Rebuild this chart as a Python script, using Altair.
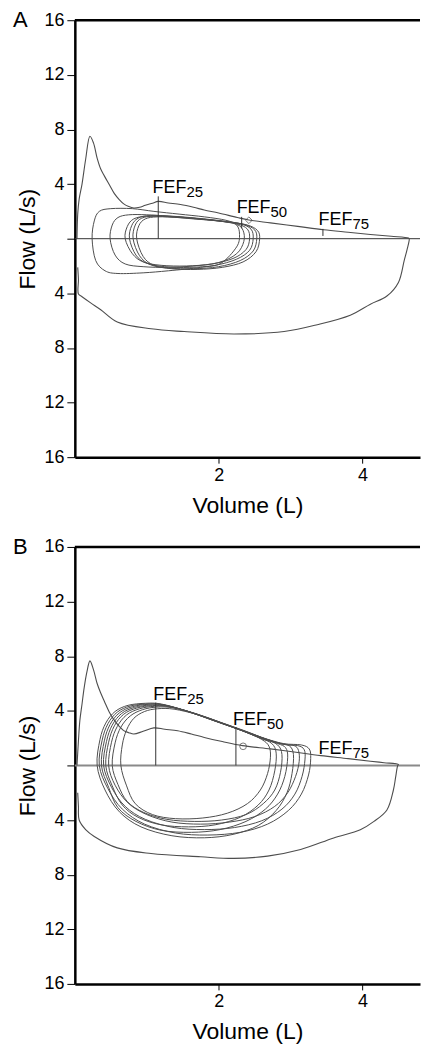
import altair as alt
import pandas as pd

FONT = "Liberation Sans"
CURVE = "#4d4d4d"
X_MAX = 4.8
Y_TICKS = [-16, -12, -8, -4, 0, 4, 8, 12, 16]
X_TICKS = [2, 4]

# ---------------- Panel A ----------------
A_EXP_V = [0.03, 0.04, 0.06, 0.10, 0.15, 0.21, 0.26, 0.31, 0.36, 0.41, 0.48, 0.55, 0.62, 0.68, 0.75, 0.82, 0.90, 0.98, 1.08, 1.16, 1.30, 1.47, 1.65, 1.80, 2.00, 2.26, 2.42, 2.72, 3.10, 3.46, 3.80, 4.11, 4.40, 4.64]
A_EXP_F = [0.0, 1.8, 2.9, 4.0, 5.8, 7.5, 7.0, 5.9, 5.1, 4.6, 3.95, 3.3, 2.85, 2.55, 2.35, 2.25, 2.3, 2.45, 2.6, 2.73, 2.62, 2.5, 2.3, 2.1, 1.88, 1.55, 1.37, 1.16, 0.9, 0.65, 0.47, 0.31, 0.18, 0.05]
A_INS_V = [4.65, 4.62, 4.58, 4.50, 4.34, 4.11, 3.83, 3.37, 2.91, 2.21, 1.52, 1.06, 0.59, 0.36, 0.22, 0.10, 0.05, 0.05, 0.04]
A_INS_F = [0.0, -0.8, -1.6, -3.2, -4.2, -4.8, -5.6, -6.3, -6.8, -6.98, -6.8, -6.6, -6.1, -5.2, -4.7, -4.25, -4.05, -3.0, -2.1]

A_T1_V = [0.24, 0.27, 0.34, 0.50, 0.80, 1.10, 1.45, 1.80, 2.10, 2.25, 2.29, 2.25, 2.03, 1.75, 1.30, 0.95, 0.60, 0.42, 0.29]
A_T1_F = [0.0, 1.3, 2.0, 2.2, 2.2, 2.0, 1.8, 1.6, 1.35, 1.0, 0.3, -0.6, -1.8, -2.1, -2.35, -2.5, -2.55, -2.35, -1.6]
A_T2_V = [0.49, 0.52, 0.60, 0.75, 1.00, 1.30, 1.65, 2.00, 2.25, 2.34, 2.35, 2.25, 2.00, 1.65, 1.30, 0.95, 0.70, 0.56]
A_T2_F = [0.0, 1.0, 1.55, 1.75, 1.75, 1.65, 1.5, 1.3, 1.05, 0.6, -0.2, -1.1, -1.75, -2.0, -2.1, -2.05, -1.85, -1.2]
A_T3_V = [0.70, 0.73, 0.82, 1.00, 1.30, 1.65, 2.00, 2.25, 2.40, 2.43, 2.38, 2.20, 1.90, 1.55, 1.20, 0.95, 0.80]
A_T3_F = [0.0, 0.9, 1.45, 1.65, 1.6, 1.45, 1.3, 1.1, 0.7, 0.0, -0.8, -1.45, -1.85, -2.0, -1.95, -1.7, -1.1]
A_T4_V = [0.76, 0.79, 0.88, 1.05, 1.35, 1.70, 2.05, 2.30, 2.45, 2.48, 2.43, 2.25, 1.95, 1.60, 1.25, 1.00, 0.85]
A_T4_F = [0.0, 0.95, 1.5, 1.7, 1.65, 1.5, 1.3, 1.1, 0.7, 0.0, -0.85, -1.5, -1.95, -2.1, -2.05, -1.8, -1.2]
A_T5_V = [0.81, 0.84, 0.93, 1.10, 1.40, 1.75, 2.10, 2.35, 2.50, 2.53, 2.48, 2.30, 2.00, 1.65, 1.30, 1.05, 0.90]
A_T5_F = [0.0, 1.0, 1.5, 1.65, 1.6, 1.45, 1.25, 1.05, 0.65, 0.0, -0.9, -1.6, -2.05, -2.2, -2.15, -1.9, -1.25]
A_T6_V = [0.86, 0.89, 0.98, 1.15, 1.45, 1.80, 2.15, 2.40, 2.54, 2.57, 2.52, 2.34, 2.05, 1.70, 1.35, 1.10, 0.95]
A_T6_F = [0.0, 0.95, 1.45, 1.6, 1.55, 1.4, 1.2, 1.0, 0.6, 0.0, -0.95, -1.7, -2.1, -2.25, -2.2, -1.95, -1.3]

A_FEF_LINE_V = [1.16, 2.32, 3.45]
A_FEF_LINE_LO = [0.0, 0.75, 0.2]
A_FEF_LINE_HI = [3.1, 1.6, 0.72]
A_FEF_TEXT_V = [1.08, 2.25, 3.39]
A_FEF_TEXT_F = [3.35, 1.85, 1.0]
A_MARK_V = [2.42]
A_MARK_F = [1.35]

# ---------------- Panel B ----------------
B_EXP_V = [0.03, 0.05, 0.07, 0.10, 0.13, 0.17, 0.21, 0.26, 0.31, 0.36, 0.41, 0.48, 0.55, 0.62, 0.68, 0.75, 0.82, 0.95, 1.10, 1.25, 1.43, 1.62, 1.80, 2.05, 2.33, 2.72, 3.05, 3.42, 3.80, 4.11, 4.30, 4.50]
B_EXP_F = [0.0, 1.8, 3.3, 4.5, 5.7, 6.9, 7.66, 7.0, 6.0, 5.3, 4.7, 3.9, 3.3, 2.85, 2.55, 2.4, 2.3, 2.5, 2.75, 2.65, 2.54, 2.3, 2.05, 1.75, 1.45, 1.21, 0.98, 0.72, 0.5, 0.31, 0.2, 0.07]
B_INS_V = [4.49, 4.46, 4.43, 4.34, 4.16, 3.97, 3.60, 3.14, 2.68, 2.21, 1.75, 1.06, 0.59, 0.27, 0.15, 0.06, 0.05, 0.04]
B_INS_F = [0.0, -0.9, -1.8, -3.26, -4.1, -4.71, -5.31, -6.16, -6.64, -6.81, -6.69, -6.45, -6.04, -5.2, -4.7, -4.0, -3.0, -2.0]

B_T1_V = [0.31, 0.35, 0.43, 0.56, 0.74, 0.98, 1.20, 1.55, 1.90, 2.25, 2.55, 2.82, 2.98, 3.04, 3.02, 2.95, 2.80, 2.55, 2.20, 1.80, 1.35, 0.92, 0.62, 0.42]
B_T1_F = [0.0, 1.9, 3.1, 3.95, 4.4, 4.55, 4.5, 4.0, 3.35, 2.7, 2.1, 1.65, 1.45, 0.8, -0.6, -2.0, -3.3, -4.4, -5.05, -5.3, -5.15, -4.5, -3.4, -1.8]
B_T2_V = [0.34, 0.38, 0.46, 0.59, 0.77, 1.00, 1.22, 1.57, 1.92, 2.27, 2.60, 2.90, 3.15, 3.26, 3.28, 3.25, 3.15, 2.97, 2.68, 2.30, 1.85, 1.40, 0.97, 0.66, 0.46]
B_T2_F = [0.0, 1.85, 3.05, 3.9, 4.35, 4.5, 4.45, 3.95, 3.3, 2.65, 2.05, 1.6, 1.5, 1.2, 0.5, -0.7, -2.1, -3.3, -4.3, -4.9, -5.1, -4.95, -4.3, -3.2, -1.7]
B_T3_V = [0.37, 0.41, 0.49, 0.62, 0.80, 1.03, 1.25, 1.60, 1.95, 2.30, 2.58, 2.82, 2.93, 2.96, 2.92, 2.82, 2.65, 2.38, 2.02, 1.62, 1.20, 0.85, 0.60, 0.47]
B_T3_F = [0.0, 1.8, 3.0, 3.85, 4.3, 4.48, 4.42, 3.9, 3.25, 2.6, 2.0, 1.6, 1.3, 0.6, -0.8, -2.1, -3.2, -4.1, -4.7, -4.9, -4.75, -4.1, -3.1, -1.6]
B_T4_V = [0.40, 0.44, 0.52, 0.65, 0.83, 1.05, 1.27, 1.62, 1.97, 2.32, 2.62, 2.90, 3.10, 3.19, 3.20, 3.16, 3.06, 2.88, 2.60, 2.22, 1.80, 1.38, 0.98, 0.70, 0.51]
B_T4_F = [0.0, 1.75, 2.95, 3.8, 4.25, 4.42, 4.38, 3.88, 3.22, 2.58, 2.0, 1.55, 1.45, 1.15, 0.4, -0.8, -2.1, -3.2, -4.05, -4.55, -4.7, -4.55, -3.95, -3.0, -1.6]
B_T5_V = [0.43, 0.47, 0.55, 0.68, 0.86, 1.08, 1.30, 1.65, 2.00, 2.32, 2.58, 2.74, 2.80, 2.78, 2.70, 2.55, 2.30, 1.95, 1.58, 1.20, 0.88, 0.66, 0.52]
B_T5_F = [0.0, 1.7, 2.9, 3.75, 4.2, 4.38, 4.33, 3.83, 3.18, 2.55, 2.0, 1.6, 0.9, -0.4, -1.8, -2.9, -3.8, -4.35, -4.5, -4.35, -3.8, -2.9, -1.5]
B_T6_V = [0.47, 0.51, 0.59, 0.72, 0.90, 1.11, 1.33, 1.68, 2.03, 2.37, 2.65, 2.90, 3.05, 3.11, 3.12, 3.07, 2.96, 2.78, 2.50, 2.15, 1.75, 1.35, 1.00, 0.74, 0.56]
B_T6_F = [0.0, 1.7, 2.85, 3.7, 4.15, 4.33, 4.28, 3.8, 3.15, 2.52, 1.95, 1.55, 1.45, 1.1, 0.3, -0.8, -2.0, -3.0, -3.75, -4.15, -4.3, -4.15, -3.6, -2.75, -1.45]
B_T7_V = [0.52, 0.56, 0.64, 0.77, 0.94, 1.14, 1.36, 1.70, 2.05, 2.38, 2.64, 2.82, 2.88, 2.86, 2.78, 2.62, 2.38, 2.04, 1.66, 1.28, 0.96, 0.73, 0.60]
B_T7_F = [0.0, 1.65, 2.8, 3.62, 4.08, 4.27, 4.22, 3.75, 3.1, 2.48, 1.95, 1.5, 0.8, -0.5, -1.8, -2.8, -3.6, -4.0, -4.1, -3.95, -3.45, -2.65, -1.4]
B_T8_V = [0.64, 0.66, 0.72, 0.82, 0.97, 1.15, 1.38, 1.72, 2.06, 2.38, 2.60, 2.70, 2.72, 2.68, 2.58, 2.40, 2.12, 1.78, 1.40, 1.08, 0.84, 0.72]
B_T8_F = [0.0, 1.5, 2.6, 3.45, 3.95, 4.15, 4.12, 3.7, 3.08, 2.45, 1.9, 1.4, 0.6, -0.6, -1.8, -2.8, -3.5, -3.85, -3.9, -3.6, -2.8, -1.5]

B_FEF_LINE_V = [1.125, 2.24]
B_FEF_LINE_LO = [0.0, 0.0]
B_FEF_LINE_HI = [4.6, 2.8]
B_FEF_TEXT_V = [1.09, 2.20, 3.39]
B_FEF_TEXT_F = [4.76, 2.95, 0.85]
B_MARK_V = [2.34]
B_MARK_F = [1.40]

FEF_SUB = ["25", "50", "75"]


def frame(v, f, name):
    return pd.DataFrame({"V": v, "F": f, "i": list(range(len(v))), "s": name})


def panel(letter, exp_v, exp_f, ins_v, ins_f, loops, lv, llo, lhi, tv, tf,
          mv, mf, shape, zero_color, zero_w):
    xs = alt.Scale(domain=[0, X_MAX], nice=False, zero=False)
    ys = alt.Scale(domain=[-16, 16], nice=False, zero=False)
    xax = alt.Axis(values=X_TICKS, title="Volume (L)", grid=False, format="d",
                   tickSize=6, labelPadding=3, titlePadding=10)
    yax = alt.Axis(values=Y_TICKS, title="Flow (L/s)", grid=False,
                   labelExpr="datum.value == 0 ? '' : '' + abs(datum.value)",
                   tickSize=8, labelPadding=3, titlePadding=4)
    X = alt.X("V:Q", scale=xs, axis=xax)
    Y = alt.Y("F:Q", scale=ys, axis=yax)

    zero = alt.Chart(pd.DataFrame({"F": [0]})).mark_rule(
        color=zero_color, strokeWidth=zero_w).encode(y=Y)
    top = alt.Chart(pd.DataFrame({"F": [16]})).mark_rule(
        color="black", strokeWidth=2.5).encode(y=Y)

    outer = frame(exp_v + ins_v, exp_f + ins_f, "outer")
    outer_l = alt.Chart(outer).mark_line(color=CURVE, strokeWidth=1.1,
                                         interpolate="catmull-rom").encode(
        x=X, y=Y, order="i:Q")

    ldf = pd.concat([frame(v, f, f"{letter}{k}") for k, (v, f) in enumerate(loops)],
                    ignore_index=True)
    loops_l = alt.Chart(ldf).mark_line(
        color=CURVE, strokeWidth=1.0, interpolate="cardinal-closed").encode(
        x=X, y=Y, detail="s:N", order="i:Q")

    fef = pd.DataFrame({"V": lv, "F": llo, "F2": lhi})
    fef_l = alt.Chart(fef).mark_rule(color="#333333", strokeWidth=1).encode(
        x=X, y=Y, y2="F2:Q")

    mk = pd.DataFrame({"V": mv, "F": mf})
    mk_l = alt.Chart(mk).mark_point(shape=shape, filled=False, color="#444444",
                                    size=45, strokeWidth=1).encode(x=X, y=Y)

    txt = pd.DataFrame({"V": tv, "F": tf, "main": ["FEF"] * 3, "sub": FEF_SUB})
    t_main = alt.Chart(txt).mark_text(align="left", baseline="alphabetic",
                                      font=FONT, fontSize=18, color="black").encode(
        x=X, y=Y, text="main:N")
    t_sub = alt.Chart(txt).mark_text(align="left", baseline="alphabetic", dx=34, dy=4,
                                     font=FONT, fontSize=15, color="black").encode(
        x=X, y=Y, text="sub:N")

    let = alt.Chart(pd.DataFrame({"F": [16], "t": [letter]})).mark_text(
        align="left", baseline="middle", font=FONT, fontSize=22, color="black").encode(
        x=alt.value(-62), y=Y, text="t:N")

    return alt.layer(zero, top, outer_l, loops_l, fef_l, mk_l, t_main, t_sub, let).properties(
        width=346, height=438)


pa = panel("A", A_EXP_V, A_EXP_F, A_INS_V, A_INS_F,
           [(A_T1_V, A_T1_F), (A_T2_V, A_T2_F), (A_T3_V, A_T3_F),
            (A_T4_V, A_T4_F), (A_T5_V, A_T5_F), (A_T6_V, A_T6_F)],
           A_FEF_LINE_V, A_FEF_LINE_LO, A_FEF_LINE_HI, A_FEF_TEXT_V, A_FEF_TEXT_F,
           A_MARK_V, A_MARK_F, "diamond", "#333333", 1)
pb = panel("B", B_EXP_V, B_EXP_F, B_INS_V, B_INS_F,
           [(B_T1_V, B_T1_F), (B_T2_V, B_T2_F), (B_T3_V, B_T3_F), (B_T4_V, B_T4_F),
            (B_T5_V, B_T5_F), (B_T6_V, B_T6_F), (B_T7_V, B_T7_F), (B_T8_V, B_T8_F)],
           B_FEF_LINE_V, B_FEF_LINE_LO, B_FEF_LINE_HI, B_FEF_TEXT_V, B_FEF_TEXT_F,
           B_MARK_V, B_MARK_F, "circle", "#8a8a8a", 2)

chart = alt.vconcat(pa, pb, spacing=19).properties(
    padding={"left": 5, "top": 0, "right": 0, "bottom": 0}
).configure_view(stroke=None).configure_axis(
    labelFont=FONT, titleFont=FONT, labelFontSize=18, titleFontSize=23,
    titleFontWeight="normal", labelColor="black", titleColor="black",
    domainColor="black", domainWidth=2.5, tickColor="black", tickWidth=1
)

chart.save("out.html", embed_options={"renderer": "svg", "actions": False})
